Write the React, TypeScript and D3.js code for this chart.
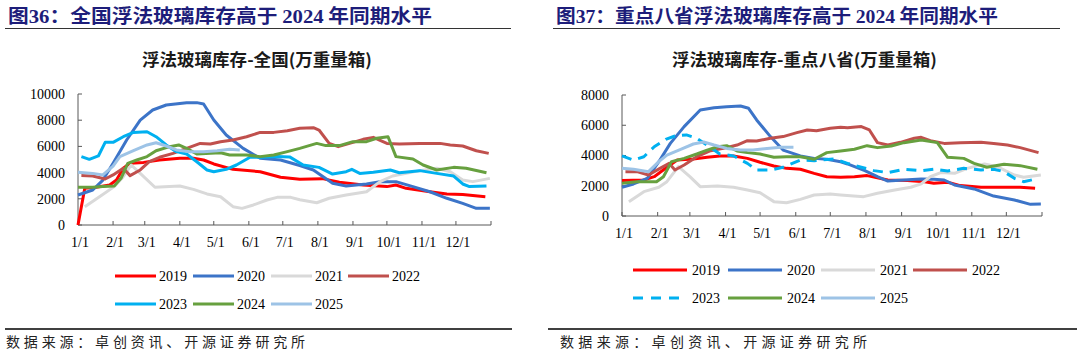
import React from "react";
import * as d3 from "d3";

// ---------- DATA (day-of-year, value) ----------
const years = ["2019", "2020", "2021", "2022", "2023", "2024", "2025"];
const colors = ["#FF0000", "#3C74C8", "#D9D9D9", "#C0504D", "#00B0F0", "#67A03F", "#9DC3E6"];

const monthTickDays = [0, 31, 59, 90, 120, 151, 181, 212, 243, 273, 304, 334, 365];
const monthLabels = ["1/1", "2/1", "3/1", "4/1", "5/1", "6/1", "7/1", "8/1", "9/1", "10/1", "11/1", "12/1"];

const natTicks = [0, 2000, 4000, 6000, 8000, 10000];
const provTicks = [0, 2000, 4000, 6000, 8000];

// National (全国)
const nat2019: [number, number][] = [[0,0],[6,2800],[16,2880],[28,3050],[34,3430],[40,4330],[46,4710],[58,4780],[72,4960],[90,5090],[102,5090],[111,4960],[120,4660],[137,4250],[161,4070],[179,3640],[196,3490],[216,3540],[231,3260],[252,3050],[273,2930],[281,3050],[290,2800],[311,2540],[326,2370],[340,2320],[360,2160]];
const nat2020: [number, number][] = [[0,2290],[13,2670],[22,3430],[31,4710],[43,6490],[55,8010],[66,8780],[78,9160],[96,9340],[105,9340],[111,9240],[120,8010],[131,6870],[146,5850],[161,5090],[179,4960],[196,4540],[208,4200],[225,3180],[237,2980],[255,3130],[267,3310],[281,3310],[296,2930],[311,2540],[326,2040],[340,1650],[352,1270],[364,1270]];
const nat2021: [number, number][] = [[6,1400],[19,2160],[32,2930],[40,3690],[47,4580],[55,3940],[68,2880],[81,2930],[90,2980],[102,2720],[114,2370],[126,2160],[137,1400],[145,1270],[155,1530],[167,1910],[176,2110],[188,2110],[196,1930],[211,1700],[222,2040],[237,2290],[255,2540],[267,3310],[278,3740],[290,3940],[302,4150],[317,4330],[329,4070],[340,3430],[349,3310],[364,3560]];
const nat2022: [number, number][] = [[3,3770],[13,3740],[24,3510],[31,3820],[40,4330],[46,3770],[55,4200],[63,4830],[72,5170],[84,5470],[96,5850],[108,6230],[117,6180],[126,6360],[137,6490],[149,6740],[161,7070],[173,7070],[185,7200],[196,7380],[208,7430],[213,7250],[222,6230],[230,5980],[240,6230],[252,6540],[261,6690],[273,6230],[284,6180],[302,6230],[320,6230],[329,6110],[340,6030],[352,5670],[363,5470]];
const nat2023: [number, number][] = [[3,5220],[10,5010],[18,5270],[24,6310],[31,6310],[40,6740],[49,7070],[61,7120],[69,6740],[78,6110],[87,5600],[96,5420],[105,4830],[114,4200],[120,4070],[131,4250],[140,4580],[152,5170],[161,5170],[176,5220],[187,5200],[199,4580],[213,4400],[225,3890],[237,4070],[242,4250],[249,3940],[261,4020],[276,4200],[284,3990],[302,4150],[317,3940],[332,3740],[340,3130],[346,2930],[361,2980]];
const nat2024: [number, number][] = [[0,2880],[13,2880],[22,2930],[32,2980],[38,3560],[44,4710],[52,4960],[61,5220],[69,5670],[81,5980],[89,6110],[96,5850],[105,5420],[117,5470],[126,5520],[134,5340],[149,5340],[161,5220],[173,5340],[185,5600],[196,5850],[211,6230],[219,6060],[231,6060],[243,6360],[255,6360],[264,6620],[274,6740],[281,5220],[296,5040],[305,4580],[317,4200],[332,4400],[343,4330],[361,3990]];
const nat2025: [number, number][] = [[0,4020],[13,3940],[22,3820],[31,4500],[37,5220],[49,5670],[61,6110],[69,6280],[78,6030],[87,5730],[99,5600],[111,5600],[123,5670],[134,5780],[143,5730]];

// Eight key provinces (重点八省)
const prov2019: [number, number][] = [[0,2340],[19,2380],[28,2600],[39,3220],[48,3700],[62,3770],[74,3880],[85,3970],[97,3970],[109,3810],[120,3550],[132,3310],[143,3150],[155,3090],[167,2820],[178,2600],[190,2560],[202,2600],[213,2670],[231,2380],[248,2340],[263,2270],[271,2160],[283,2230],[294,2010],[312,1900],[329,1900],[346,1900],[359,1830]];
const prov2020: [number, number][] = [[0,1900],[10,2120],[22,2490],[32,3590],[42,4800],[54,5910],[68,7010],[80,7160],[91,7230],[103,7270],[110,7120],[117,6350],[129,5250],[140,4360],[155,3970],[167,3810],[178,3750],[190,3590],[196,3440],[211,3000],[222,2600],[231,2310],[245,2380],[260,2450],[271,2430],[280,2380],[289,2050],[306,1790],[323,1320],[341,1060],[355,770],[364,790]];
const prov2021: [number, number][] = [[6,950],[19,1610],[32,1900],[39,2270],[49,3260],[59,2600],[68,1940],[83,1980],[97,1900],[109,1720],[120,1540],[132,950],[143,880],[155,1100],[167,1390],[181,1450],[190,1390],[210,1280],[222,1500],[237,1720],[251,1900],[260,2120],[268,2600],[277,2870],[289,2820],[300,3150],[315,3440],[326,3260],[341,2710],[349,2560],[364,2710]];
const prov2022: [number, number][] = [[3,2930],[13,2930],[23,2710],[33,3150],[41,3480],[46,3040],[54,3370],[65,3920],[77,4320],[88,4470],[100,4690],[109,4980],[117,4960],[129,5140],[140,5250],[152,5510],[161,5690],[169,5640],[181,5800],[190,5860],[196,5840],[208,5910],[215,5690],[222,4850],[231,4690],[242,4870],[254,5140],[260,5200],[268,4980],[280,4800],[294,4850],[312,4870],[323,4800],[335,4690],[346,4520],[362,4190]];
const prov2023: [number, number][] = [[0,3970],[10,3700],[19,3920],[28,4580],[38,5070],[46,5290],[56,5360],[65,5140],[74,4690],[85,4100],[97,3970],[109,3480],[117,3040],[129,3040],[140,3220],[155,3700],[167,3660],[181,3750],[184,3770],[196,3480],[208,3220],[219,3000],[231,2870],[245,3090],[260,3000],[271,3090],[283,2980],[297,3150],[312,3040],[323,3090],[332,2930],[341,2490],[349,2270],[358,2420]];
const prov2024: [number, number][] = [[0,2160],[13,2270],[30,2270],[36,2600],[43,3590],[54,3810],[65,4100],[74,4360],[83,4580],[91,4650],[100,4300],[109,4190],[120,4100],[132,3880],[143,3920],[155,3920],[167,3750],[178,4190],[190,4300],[202,4410],[213,4650],[222,4520],[234,4630],[245,4850],[260,5030],[274,4850],[283,3880],[297,3810],[306,3480],[317,3220],[332,3420],[346,3330],[361,3090]];
const prov2025: [number, number][] = [[0,3150],[10,3090],[23,2930],[32,3590],[39,4030],[51,4410],[62,4760],[71,4890],[80,4690],[91,4470],[103,4360],[114,4360],[126,4470],[138,4540],[149,4540]];

const natSeries = [nat2019, nat2020, nat2021, nat2022, nat2023, nat2024, nat2025];
const provSeries = [prov2019, prov2020, prov2021, prov2022, prov2023, prov2024, prov2025];

const SERIF = "'Liberation Serif', 'Times New Roman', serif";
const CJK = "'Noto Sans CJK SC', 'Noto Sans', sans-serif";

type PanelProps = {
  series: [number, number][][];
  x0: number; x1: number; yTop: number; yBottom: number;
  yMax: number; yTicks: number[];
  xLabelY: number; yLabelX: number;
  dashed2023: boolean;
  legendX: number[]; legendY: number[]; swatch: number; legendGap: number;
};

function Panel(p: PanelProps) {
  const x = d3.scaleLinear().domain([0, 365]).range([p.x0, p.x1]);
  const y = d3.scaleLinear().domain([0, p.yMax]).range([p.yBottom, p.yTop]);
  const line = d3.line<[number, number]>().x(d => x(d[0])).y(d => y(d[1])).curve(d3.curveLinear);
  const axisColor = "#595959";
  return (
    <g>
      {/* axes */}
      <line x1={p.x0} x2={p.x0} y1={y(p.yMax)} y2={p.yBottom} stroke={axisColor} strokeWidth={1} />
      <line x1={p.x0} x2={p.x1} y1={p.yBottom} y2={p.yBottom} stroke={axisColor} strokeWidth={1} />
      {p.yTicks.map(t => (
        <g key={"y" + t}>
          <line x1={p.x0} x2={p.x0 + 4} y1={y(t)} y2={y(t)} stroke={axisColor} />
          <text x={p.yLabelX} y={y(t)} dy="0.35em" textAnchor="end" fontFamily={SERIF} fontSize={14} fill="#000">{t}</text>
        </g>
      ))}
      {monthTickDays.map(d => (
        <line key={"x" + d} x1={x(d)} x2={x(d)} y1={p.yBottom} y2={p.yBottom - 4} stroke={axisColor} />
      ))}
      {monthLabels.map((l, i) => (
        <text key={l} x={x(monthTickDays[i]) + 2} y={p.xLabelY} dy="0.35em" textAnchor="middle" fontFamily={SERIF} fontSize={14} fill="#000">{l}</text>
      ))}
      {/* lines */}
      {p.series.map((s, i) => (
        <path key={years[i]} d={line(s) || ""} fill="none" stroke={colors[i]} strokeWidth={3}
          strokeLinejoin="round" strokeLinecap="butt"
          strokeDasharray={p.dashed2023 && years[i] === "2023" ? "10,7" : undefined} />
      ))}
      {/* legend */}
      {years.map((yr, i) => {
        const lx = p.legendX[i % 4];
        const ly = p.legendY[Math.floor(i / 4)];
        return (
          <g key={"lg" + yr}>
            <line x1={lx} x2={lx + p.swatch} y1={ly} y2={ly} stroke={colors[i]} strokeWidth={3}
              strokeDasharray={p.dashed2023 && yr === "2023" ? "10,8" : undefined} />
            <text x={lx + p.swatch + p.legendGap} y={ly} dy="0.35em" fontFamily={SERIF} fontSize={14} fill="#000">{yr}</text>
          </g>
        );
      })}
    </g>
  );
}

export default function App() {
  const titleColor = "#1D1D7A";
  return (
    <svg width={1080} height={357} viewBox="0 0 1080 357"
      style={{ position: "absolute", left: 0, top: 0, background: "#fff" }}>
      <rect width={1080} height={357} fill="#fff" />
      {/* Figure titles */}
      <text x={8} y={16} dy="0.35em" fontFamily={CJK} fontWeight={700} fontSize={19} fill={titleColor}
        textLength={424} lengthAdjust="spacingAndGlyphs">
        图<tspan fontFamily={SERIF}>36</tspan>：全国浮法玻璃库存高于 <tspan fontFamily={SERIF}>2024</tspan> 年同期水平
      </text>
      <line x1={5} x2={511} y1={28.5} y2={28.5} stroke="#333" strokeWidth={1} />
      <text x={556} y={16} dy="0.35em" fontFamily={CJK} fontWeight={700} fontSize={19} fill={titleColor}
        textLength={442} lengthAdjust="spacingAndGlyphs">
        图<tspan fontFamily={SERIF}>37</tspan>：重点八省浮法玻璃库存高于 <tspan fontFamily={SERIF}>2024</tspan> 年同期水平
      </text>
      <line x1={553} x2={1060} y1={28.5} y2={28.5} stroke="#333" strokeWidth={1} />

      {/* Chart subtitles */}
      <text x={142} y={60} dy="0.35em" fontFamily={CJK} fontWeight={700} fontSize={17} fill="#1a1a1a"
        textLength={230} lengthAdjust="spacingAndGlyphs">浮法玻璃库存-全国(万重量箱)</text>
      <text x={672} y={60} dy="0.35em" fontFamily={CJK} fontWeight={700} fontSize={17} fill="#1a1a1a"
        textLength={265} lengthAdjust="spacingAndGlyphs">浮法玻璃库存-重点八省(万重量箱)</text>

      <Panel series={natSeries} x0={78} x1={491} yTop={94} yBottom={225} yMax={10000} yTicks={natTicks}
        xLabelY={242} yLabelX={65} dashed2023={false}
        legendX={[115, 193, 271, 348]} legendY={[276, 304]} swatch={41} legendGap={3} />
      <Panel series={provSeries} x0={622} x1={1042} yTop={95} yBottom={216} yMax={8000} yTicks={provTicks}
        xLabelY={233} yLabelX={609} dashed2023={true}
        legendX={[633, 728, 821, 913]} legendY={[270, 298]} swatch={54} legendGap={5} />

      {/* Source lines */}
      <line x1={5} x2={512} y1={329} y2={329} stroke="#404040" strokeWidth={2} />
      <text x={6} y={342} dy="0.35em" fontFamily={CJK} fontSize={14} fill="#222"
        textLength={299} lengthAdjust="spacing">数据来源：卓创资讯、开源证券研究所</text>
      <line x1={548} x2={1077} y1={329} y2={329} stroke="#404040" strokeWidth={2} />
      <text x={560} y={342} dy="0.35em" fontFamily={CJK} fontSize={14} fill="#222"
        textLength={307} lengthAdjust="spacing">数据来源：卓创资讯、开源证券研究所</text>
    </svg>
  );
}
